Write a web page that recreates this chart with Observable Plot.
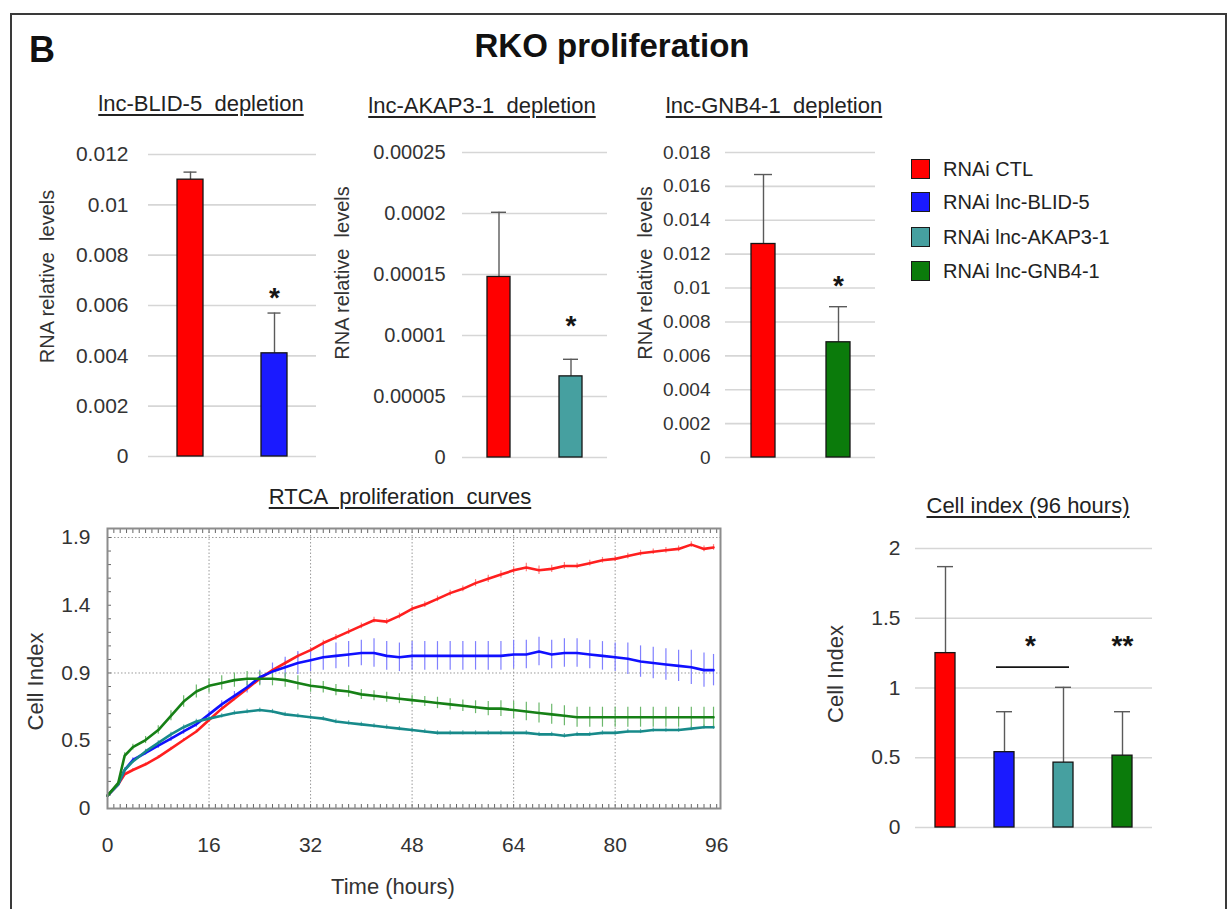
<!DOCTYPE html>
<html>
<head>
<meta charset="utf-8">
<script src="https://cdn.jsdelivr.net/npm/d3@7"></script>
<script src="https://cdn.jsdelivr.net/npm/@observablehq/plot@0.6"></script>
<style>
  html, body { margin: 0; padding: 0; background: #fff; }
  #fig { position: relative; width: 1230px; height: 909px; overflow: hidden; font-family: "Liberation Sans", Arial, sans-serif; background: #fff; }
  #fig svg { position: absolute; overflow: visible; }
  .txt { position: absolute; white-space: pre; text-align: center; color: #222; }
</style>
</head>
<body>
<div id="fig"></div>
<script>
// ---------------- DATA ----------------
const groups = ["RNAi CTL", "RNAi lnc-BLID-5", "RNAi lnc-AKAP3-1", "RNAi lnc-GNB4-1"];
const barColors = ["#ff0000", "#1a1aff", "#46a0a0", "#0b7b0b"];
const curveColors = ["#ff1f1f", "#1010ff", "#178a8a", "#168016"];
const curveErrColors = ["#ff8080", "#8080ff", "#6ab5b5", "#6cb86c"];

// lnc-BLID-5 depletion
const blidGroups = [groups[0], groups[1]];
const blidValues = [0.011, 0.0041];
const blidErrors = [0.0003, 0.0016];
const blidTicks = [0, 0.002, 0.004, 0.006, 0.008, 0.01, 0.012];
const blidTickLabels = ["0", "0.002", "0.004", "0.006", "0.008", "0.01", "0.012"];
const blidStars = [{group: groups[1], y: 0.0066, label: "*"}];

// lnc-AKAP3-1 depletion
const akapGroups = [groups[0], groups[2]];
const akapValues = [0.000148, 0.0000665];
const akapErrors = [0.000053, 0.000014];
const akapTicks = [0, 0.00005, 0.0001, 0.00015, 0.0002, 0.00025];
const akapTickLabels = ["0", "0.00005", "0.0001", "0.00015", "0.0002", "0.00025"];
const akapStars = [{group: groups[2], y: 0.000114, label: "*"}];

// lnc-GNB4-1 depletion
const gnbGroups = [groups[0], groups[3]];
const gnbValues = [0.0126, 0.0068];
const gnbErrors = [0.0041, 0.0021];
const gnbTicks = [0, 0.002, 0.004, 0.006, 0.008, 0.01, 0.012, 0.014, 0.016, 0.018];
const gnbTickLabels = ["0", "0.002", "0.004", "0.006", "0.008", "0.01", "0.012", "0.014", "0.016", "0.018"];
const gnbStars = [{group: groups[3], y: 0.0106, label: "*"}];

// Cell index (96 hours)
const ci96Values = [1.25, 0.54, 0.465, 0.515];
const ci96Errors = [0.62, 0.29, 0.54, 0.315];
const ci96Ticks = [0, 0.5, 1, 1.5, 2];
const ci96TickLabels = ["0", "0.5", "1", "1.5", "2"];
const ci96Stars = [{group: groups[3], y: 1.36, label: "**"}];
const ci96Bracket = [{from: groups[1], to: groups[2], y: 1.15}];
const ci96BracketStar = [{group: groups[1], y: 1.36, label: "*"}];

// RTCA proliferation curves
const rtcaTime = [0, 1.7, 2.7, 4, 6, 8, 10, 12, 14, 16, 18, 20, 22, 24, 26, 28, 30, 32, 34, 36, 38, 40, 42, 44, 46, 48, 50, 52, 54, 56, 58, 60, 62, 64, 66, 68, 70, 72, 74, 76, 78, 80, 82, 84, 86, 88, 90, 92, 94, 95.5];
const ctlCurve = [0.09, 0.17, 0.24, 0.27, 0.31, 0.36, 0.42, 0.48, 0.54, 0.62, 0.70, 0.77, 0.84, 0.91, 0.97, 1.02, 1.07, 1.11, 1.16, 1.20, 1.24, 1.28, 1.32, 1.31, 1.35, 1.40, 1.43, 1.47, 1.51, 1.54, 1.58, 1.61, 1.64, 1.67, 1.69, 1.67, 1.68, 1.70, 1.70, 1.72, 1.74, 1.75, 1.77, 1.79, 1.80, 1.81, 1.82, 1.85, 1.82, 1.83];
const ctlCurveErr = [0, 0.01, 0.01, 0.01, 0.01, 0.01, 0.01, 0.01, 0.01, 0.015, 0.015, 0.015, 0.015, 0.02, 0.02, 0.02, 0.02, 0.02, 0.02, 0.02, 0.02, 0.02, 0.02, 0.02, 0.02, 0.02, 0.02, 0.02, 0.02, 0.02, 0.025, 0.025, 0.025, 0.025, 0.03, 0.03, 0.025, 0.025, 0.02, 0.02, 0.02, 0.02, 0.02, 0.02, 0.02, 0.02, 0.02, 0.02, 0.02, 0.02];
const blidCurve = [0.09, 0.17, 0.27, 0.34, 0.39, 0.44, 0.49, 0.54, 0.59, 0.66, 0.73, 0.79, 0.85, 0.92, 0.96, 0.99, 1.02, 1.04, 1.06, 1.07, 1.08, 1.09, 1.09, 1.07, 1.06, 1.07, 1.07, 1.07, 1.07, 1.07, 1.07, 1.07, 1.07, 1.08, 1.08, 1.10, 1.08, 1.09, 1.09, 1.08, 1.07, 1.06, 1.05, 1.03, 1.02, 1.01, 1.00, 0.99, 0.97, 0.97];
const blidCurveErr = [0, 0.01, 0.01, 0.015, 0.015, 0.02, 0.02, 0.02, 0.02, 0.02, 0.025, 0.03, 0.04, 0.05, 0.06, 0.07, 0.08, 0.08, 0.09, 0.09, 0.09, 0.09, 0.10, 0.10, 0.10, 0.10, 0.10, 0.10, 0.10, 0.10, 0.10, 0.10, 0.10, 0.10, 0.10, 0.10, 0.10, 0.10, 0.10, 0.10, 0.10, 0.10, 0.11, 0.11, 0.11, 0.11, 0.11, 0.12, 0.12, 0.11];
const akapCurve = [0.09, 0.17, 0.27, 0.33, 0.40, 0.46, 0.52, 0.57, 0.61, 0.63, 0.65, 0.67, 0.68, 0.69, 0.68, 0.66, 0.65, 0.64, 0.63, 0.61, 0.60, 0.59, 0.58, 0.57, 0.56, 0.55, 0.54, 0.53, 0.53, 0.53, 0.53, 0.53, 0.53, 0.53, 0.53, 0.52, 0.52, 0.51, 0.52, 0.52, 0.53, 0.53, 0.54, 0.54, 0.55, 0.55, 0.55, 0.56, 0.57, 0.57];
const akapCurveErr = [0, 0.01, 0.015, 0.015, 0.015, 0.015, 0.015, 0.015, 0.015, 0.015, 0.015, 0.015, 0.015, 0.015, 0.015, 0.015, 0.015, 0.015, 0.015, 0.015, 0.015, 0.015, 0.015, 0.015, 0.015, 0.015, 0.015, 0.015, 0.015, 0.015, 0.015, 0.015, 0.015, 0.015, 0.015, 0.015, 0.015, 0.015, 0.015, 0.015, 0.015, 0.015, 0.015, 0.015, 0.015, 0.015, 0.015, 0.015, 0.015, 0.015];
const gnbCurve = [0.09, 0.18, 0.37, 0.43, 0.48, 0.55, 0.65, 0.75, 0.82, 0.86, 0.88, 0.90, 0.91, 0.91, 0.91, 0.90, 0.88, 0.86, 0.85, 0.83, 0.82, 0.80, 0.79, 0.78, 0.77, 0.76, 0.75, 0.74, 0.73, 0.72, 0.71, 0.70, 0.70, 0.69, 0.68, 0.67, 0.66, 0.65, 0.64, 0.64, 0.64, 0.64, 0.64, 0.64, 0.64, 0.64, 0.64, 0.64, 0.64, 0.64];
const gnbCurveErr = [0, 0.01, 0.02, 0.02, 0.025, 0.03, 0.035, 0.04, 0.045, 0.05, 0.05, 0.05, 0.05, 0.05, 0.05, 0.05, 0.05, 0.045, 0.04, 0.04, 0.04, 0.035, 0.035, 0.035, 0.035, 0.035, 0.035, 0.04, 0.04, 0.04, 0.045, 0.05, 0.055, 0.06, 0.065, 0.07, 0.07, 0.07, 0.07, 0.07, 0.07, 0.07, 0.07, 0.07, 0.07, 0.07, 0.07, 0.07, 0.07, 0.07];
const rtcaXTicks = [0, 16, 32, 48, 64, 80, 96];
const rtcaYTicks = [0, 0.475, 0.95, 1.425, 1.9];
const rtcaYTickLabels = ["0", "0.5", "0.9", "1.4", "1.9"];

// ---------------- HELPERS ----------------
const fig = document.getElementById("fig");
const FONT = '"Liberation Sans", Arial, sans-serif';

function addText(txt, cx, cy, fs, extra = {}) {
  const d = document.createElement("div");
  d.className = "txt";
  d.textContent = txt;
  Object.assign(d.style, {
    left: (cx - 300) + "px", width: "600px", top: (cy - fs / 2) + "px",
    fontSize: fs + "px", lineHeight: fs + "px"
  }, extra);
  fig.appendChild(d);
  return d;
}

function place(svg, left, top) {
  svg.style.left = left + "px";
  svg.style.top = top + "px";
  fig.appendChild(svg);
}

function barPanel(o) {
  const rows = o.groups.map((g, i) => ({g, v: o.values[i], e: o.errors[i], fill: barColors[groups.indexOf(g)]}));
  const fmt = d => o.tickLabels[o.ticks.indexOf(d)];
  const marks = [
    Plot.gridY({ticks: o.ticks, stroke: "#d6d6d6", strokeOpacity: 1, strokeWidth: 1.6}),
    Plot.axisY({ticks: o.ticks, tickSize: 0, tickPadding: o.tickPadding, tickFormat: fmt, fontSize: o.tickFont, fill: "#333", label: null}),
    Plot.ruleX(rows, {x: "g", y1: "v", y2: d => d.v + d.e, stroke: "#5a5a5a", strokeWidth: 1.4}),
    Plot.tickY(rows, {x: "g", y: d => d.v + d.e, stroke: "#5a5a5a", strokeWidth: 1.4, insetLeft: o.capInset, insetRight: o.capInset}),
    Plot.barY(rows, {x: "g", y: "v", fill: "fill", stroke: "#151515", strokeWidth: 1.3}),
    Plot.text(o.stars, {x: "group", y: "y", text: "label", fontSize: 28, fontWeight: "bold", fill: "#151515", dy: 8}),
    Plot.text([o.yLabel], {frameAnchor: "left", textAnchor: "middle", dx: o.labelDx, dy: o.labelDy, rotate: -90, fontSize: o.labelFont, fill: "#333"})
  ];
  if (o.extra) marks.push(...o.extra);
  return Plot.plot({
    width: o.width, height: o.height,
    marginLeft: o.ml, marginRight: o.mr, marginTop: o.mt, marginBottom: o.mb,
    style: {fontFamily: FONT, background: "transparent", color: "#333"},
    x: {type: "band", domain: o.groups, paddingInner: o.pad, paddingOuter: o.pad / 2, axis: null, label: null},
    y: {domain: o.yDomain, axis: null, label: null},
    color: {type: "identity"},
    marks
  });
}

// ---------------- FRAME & HEADINGS ----------------
const border = document.createElement("div");
Object.assign(border.style, {position: "absolute", left: "10px", top: "13px", width: "1217px", height: "960px", border: "2px solid #3a3a3a", boxSizing: "border-box"});
fig.appendChild(border);

addText("B", 42, 50, 36, {fontWeight: "bold", color: "#111"});
addText("RKO proliferation", 612, 45, 33, {fontWeight: "bold", color: "#111"});

const ul = {textDecoration: "underline", textUnderlineOffset: "3px", textDecorationThickness: "1.5px", color: "#222"};
addText("lnc-BLID-5  depletion", 201, 104, 22, ul);
addText("lnc-AKAP3-1  depletion", 482, 106, 22, ul);
addText("lnc-GNB4-1  depletion", 774, 106, 22, ul);
addText("RTCA  proliferation  curves", 400, 497, 22, ul);
addText("Cell index (96 hours)", 1028, 506, 22, ul);

// ---------------- TOP BAR PANELS ----------------
place(barPanel({
  groups: blidGroups, values: blidValues, errors: blidErrors, ticks: blidTicks, tickLabels: blidTickLabels,
  stars: blidStars, yDomain: [0, 0.012], yLabel: "RNA relative  levels",
  width: 330, height: 340, ml: 148, mr: 14, mt: 24, mb: 14, pad: 0.69,
  tickPadding: 20, tickFont: 21, capInset: 6.5, labelDx: -101, labelDy: -29, labelFont: 20
}), 0, 130);

place(barPanel({
  groups: akapGroups, values: akapValues, errors: akapErrors, ticks: akapTicks, tickLabels: akapTickLabels,
  stars: akapStars, yDomain: [0, 0.00025], yLabel: "RNA relative  levels",
  width: 320, height: 340, ml: 162, mr: 13, mt: 22, mb: 13, pad: 0.68,
  tickPadding: 17, tickFont: 20, capInset: 4, labelDx: -120, labelDy: -32, labelFont: 20
}), 300, 130);

place(barPanel({
  groups: gnbGroups, values: gnbValues, errors: gnbErrors, ticks: gnbTicks, tickLabels: gnbTickLabels,
  stars: gnbStars, yDomain: [0, 0.018], yLabel: "RNA relative  levels",
  width: 270, height: 340, ml: 105, mr: 15, mt: 22, mb: 13, pad: 0.68,
  tickPadding: 15, tickFont: 19, capInset: 3, labelDx: -80, labelDy: -32, labelFont: 20
}), 620, 130);

// ---------------- LEGEND ----------------
const legendY = [169, 202, 237, 271];
groups.forEach((g, i) => {
  const sw = document.createElement("div");
  Object.assign(sw.style, {position: "absolute", left: "911px", top: (legendY[i] - 10) + "px", width: "19px", height: "20px", background: barColors[i], border: "1.5px solid #1a1a1a", boxSizing: "border-box"});
  fig.appendChild(sw);
  const t = document.createElement("div");
  t.className = "txt";
  t.textContent = g;
  Object.assign(t.style, {left: "943px", top: (legendY[i] - 10) + "px", fontSize: "20px", lineHeight: "20px", textAlign: "left", color: "#222"});
  fig.appendChild(t);
});

// ---------------- RTCA CURVES ----------------
const rtcaSeries = [
  {values: ctlCurve, err: ctlCurveErr, i: 0},
  {values: blidCurve, err: blidCurveErr, i: 1},
  {values: akapCurve, err: akapCurveErr, i: 2},
  {values: gnbCurve, err: gnbCurveErr, i: 3}
].map(s => ({...s, rows: rtcaTime.map((t, k) => ({t, v: s.values[k], e: s.err[k]}))}));

const rtcaFmt = d => rtcaYTickLabels[rtcaYTicks.indexOf(d)];
const noText = () => "";
const rtcaMarks = [
  Plot.gridX({ticks: [16, 32, 48, 64, 80], stroke: "#9a9a9a", strokeOpacity: 1, strokeDasharray: "1.5,2", strokeWidth: 1}),
  Plot.gridY({ticks: [0.95, 1.9], stroke: "#9a9a9a", strokeOpacity: 1, strokeDasharray: "1.5,2", strokeWidth: 1}),
  Plot.axisX({anchor: "bottom", ticks: d3.range(0, 97, 1), tickSize: -4, tickFormat: noText, stroke: "#666", label: null}),
  Plot.axisX({anchor: "top", ticks: d3.range(0, 97, 1), tickSize: -4, tickFormat: noText, stroke: "#666", label: null}),
  Plot.axisY({anchor: "left", ticks: d3.range(0, 1.95, 0.095), tickSize: -4, tickFormat: noText, stroke: "#666", label: null}),
  Plot.axisX({anchor: "bottom", ticks: rtcaXTicks, tickSize: 0, tickPadding: 29, fontSize: 21, fill: "#333", label: null}),
  Plot.axisY({anchor: "left", ticks: rtcaYTicks, tickSize: 0, tickPadding: 17, tickFormat: rtcaFmt, fontSize: 21, fill: "#333", label: null}),
  ...rtcaSeries.map(s => Plot.ruleX(s.rows, {x: "t", y1: d => d.v - d.e, y2: d => d.v + d.e, stroke: curveErrColors[s.i], strokeWidth: 1.2})),
  ...rtcaSeries.map(s => Plot.line(s.rows, {x: "t", y: "v", stroke: curveColors[s.i], strokeWidth: 2.6})),
  Plot.frame({stroke: "#8c8c8c", strokeWidth: 2}),
  Plot.text(["Cell Index"], {frameAnchor: "left", textAnchor: "middle", dx: -72, dy: 13, rotate: -90, fontSize: 22, fill: "#333"}),
  Plot.text(["Time (hours)"], {frameAnchor: "bottom", textAnchor: "middle", dx: -21, dy: 85, fontSize: 22, fill: "#333"})
];
place(Plot.plot({
  width: 740, height: 390, marginLeft: 107, marginRight: 20, marginTop: 13, marginBottom: 97,
  style: {fontFamily: FONT, background: "transparent", color: "#333"},
  x: {domain: [0, 96.6], axis: null, label: null},
  y: {domain: [0, 1.963], axis: null, label: null},
  marks: rtcaMarks
}), 0, 515);

// ---------------- CELL INDEX 96 h ----------------
place(barPanel({
  groups: groups, values: ci96Values, errors: ci96Errors, ticks: ci96Ticks, tickLabels: ci96TickLabels,
  stars: ci96Stars, yDomain: [0, 2], yLabel: "Cell Index",
  width: 340, height: 310, ml: 85, mr: 18, mt: 18, mb: 13, pad: 0.66,
  tickPadding: 15, tickFont: 21, capInset: 2, labelDx: -80, labelDy: -14, labelFont: 22,
  extra: [
    Plot.ruleY(ci96Bracket, {x1: "from", x2: "to", y: "y", stroke: "#151515", strokeWidth: 1.6, insetLeft: 2, insetRight: 4}),
    Plot.text(ci96BracketStar, {x: "group", y: "y", text: "label", fontSize: 28, fontWeight: "bold", fill: "#151515", dx: 26, dy: 8})
  ]
}), 830, 530);
</script>
</body>
</html>
